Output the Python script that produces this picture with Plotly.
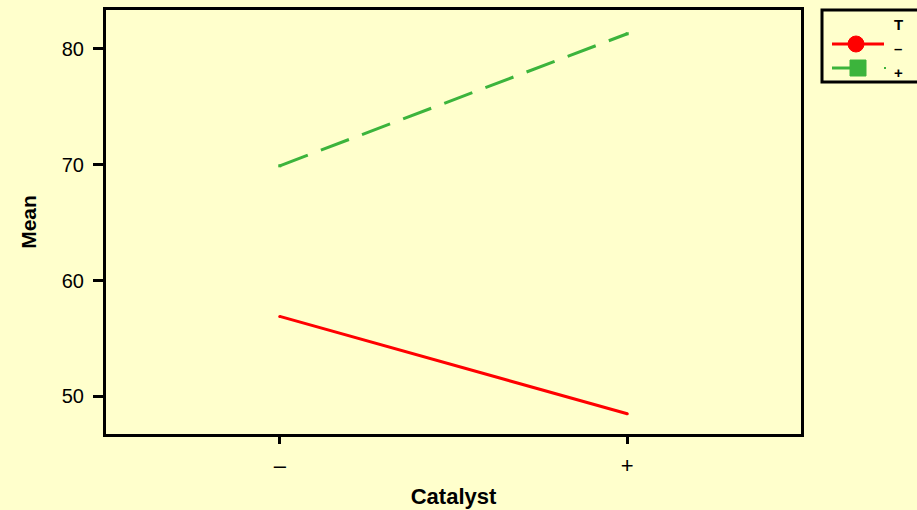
import plotly.graph_objects as go

# Interaction plot: mean response by Catalyst level for each T level
catalyst = ["–", "+"]
mean_t_minus = [56.9, 48.5]
mean_t_plus = [69.9, 81.3]

BG = "#FFFFCC"
RED = "#FF0000"
GREEN = "#3CB43C"
FONT = "Liberation Sans, Arial, sans-serif"

W, H = 917, 510
ML, MR, MT, MB = 106, 116, 10, 76

fig = go.Figure()
fig.add_trace(go.Scatter(
    x=[0, 1], y=mean_t_minus, mode="lines+markers", name="–",
    line=dict(color=RED, width=3),
    marker=dict(symbol="circle", size=3, color=RED),
))
fig.add_trace(go.Scatter(
    x=[0, 1], y=mean_t_plus, mode="lines+markers", name="+",
    line=dict(color=GREEN, width=3, dash="30px,14px"),
    marker=dict(symbol="square", size=3, color=GREEN),
))

fig.update_layout(
    width=W, height=H,
    paper_bgcolor=BG, plot_bgcolor=BG,
    margin=dict(l=ML, r=MR, t=MT, b=MB),
    showlegend=False,
    font=dict(family=FONT, color="black"),
    xaxis=dict(
        range=[-0.5, 1.5], tickvals=[0, 1], ticktext=catalyst,
        showgrid=False, zeroline=False, automargin=False,
        showline=True, linecolor="black", linewidth=3, mirror=True,
        ticks="outside", ticklen=7, tickwidth=3, tickcolor="black",
        tickfont=dict(size=22), ticklabelstandoff=3,
        title=dict(text="<b>Catalyst</b>", font=dict(size=22), standoff=12),
    ),
    yaxis=dict(
        range=[46.75, 83.35], tickvals=[50, 60, 70, 80],
        showgrid=False, zeroline=False, automargin=False,
        showline=True, linecolor="black", linewidth=3, mirror=True,
        ticks="outside", ticklen=10, tickwidth=3, tickcolor="black",
        tickfont=dict(size=20), ticklabelstandoff=5,
        title=dict(text="<b>Mean</b>", font=dict(size=21), standoff=20),
    ),
)

# Legend panel placed by pixel position, converted to plot-area paper units
PW, PH = W - ML - MR, H - MT - MB
def px(x):
    return (x - ML) / PW
def py(y):
    return 1 - (y - MT) / PH

shapes = [
    dict(type="rect", xref="paper", yref="paper",
         x0=px(822), x1=px(920), y0=py(82), y1=py(10),
         line=dict(color="black", width=3), fillcolor=BG),
    dict(type="line", xref="paper", yref="paper",
         x0=px(832), x1=px(884), y0=py(44), y1=py(44),
         line=dict(color=RED, width=3)),
    dict(type="circle", xref="paper", yref="paper",
         x0=px(848), x1=px(864), y0=py(52), y1=py(36),
         line=dict(color=RED, width=1), fillcolor=RED),
    dict(type="line", xref="paper", yref="paper",
         x0=px(832), x1=px(852), y0=py(68), y1=py(68),
         line=dict(color=GREEN, width=3)),
    dict(type="line", xref="paper", yref="paper",
         x0=px(884), x1=px(886), y0=py(68), y1=py(68),
         line=dict(color=GREEN, width=2)),
    dict(type="rect", xref="paper", yref="paper",
         x0=px(850), x1=px(866), y0=py(76), y1=py(60),
         line=dict(color=GREEN, width=1), fillcolor=GREEN),
]
for s in shapes:
    s["layer"] = "above"
fig.update_layout(shapes=shapes)

for text, y in [("<b>T</b>", 24), ("<b>–</b>", 48), ("<b>+</b>", 72)]:
    fig.add_annotation(xref="paper", yref="paper", x=px(898), y=py(y),
                       text=text, showarrow=False, xanchor="center", yanchor="middle",
                       font=dict(size=15, family=FONT, color="black"))

fig.write_html("out.html")
